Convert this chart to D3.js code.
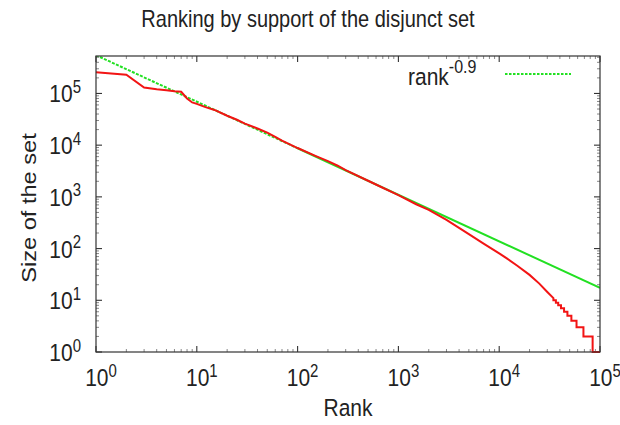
<!DOCTYPE html>
<html>
<head>
<meta charset="utf-8">
<script src="https://cdn.jsdelivr.net/npm/d3@7"></script>
<style>
  html, body { margin: 0; padding: 0; background: #fff; }
  svg { display: block; }
  text { font-family: "Liberation Sans", Arial, Helvetica, sans-serif; fill: #222; }
</style>
</head>
<body>
<svg id="chart" width="620" height="425"></svg>
<script>
// ---- data ----
const titleText = "Ranking by support of the disjunct set";
const xLabel = "Rank";
const yLabel = "Size of the set";
const xTickExps = [0, 1, 2, 3, 4, 5];
const yTickExps = [0, 1, 2, 3, 4, 5];

// red: observed size of set by rank
const rankValues = [1, 2, 3, 4, 5, 6, 7, 8, 9, 10, 12, 15, 20, 25, 30, 40, 50, 60, 70, 100, 150, 200, 250, 300, 500, 700,
  1000, 1500, 2000, 3000, 5000, 7000, 10000, 12000, 15000, 20000, 25000, 30000, 34500,
  34500, 36500, 36500, 38500, 38500, 41000, 41000, 44000, 44000, 47500, 47500, 52000, 52000, 58500, 58500, 68500, 68500, 84500, 84500, 100000];
const sizeValues = [258000, 230000, 130000, 120000, 115000, 110000, 108000, 80000, 67000, 63000, 55000, 48000, 37000, 31000, 26000, 21000, 17500, 14500, 12200, 8800, 6200, 4900, 4000, 3300, 2050, 1500,
  1080, 720, 560, 360, 190, 125, 81, 64, 47, 31, 21, 14.5, 11,
  10, 10, 9, 9, 8, 8, 7, 7, 6, 6, 5, 5, 4, 4, 3, 3, 2, 2, 1, 1];

// green: rank^-0.9 fit line
const fitLabel = "rank";
const fitExponentLabel = "-0.9";
const fitRanksDashed = [1, 100];
const fitSizesDashed = [550000, 8720];
const fitRanksSolid = [100, 100000];
const fitSizesSolid = [8720, 17.4];

// ---- layout ----
const svg = d3.select("#chart");
const W = 620, H = 425;
const m = { left: 96, right: 20, top: 56, bottom: 73 };
const x = d3.scaleLog().domain([1, 1e5]).range([m.left, W - m.right]);
const y = d3.scaleLog().domain([1, 5.3e5]).range([H - m.bottom, m.top]);
const x0 = m.left, x1 = W - m.right, y0 = H - m.bottom, y1 = m.top;

const red = "#f21414", green = "#22e022", axisCol = "#333";
const STRETCH = 1.18; // glyphs in the reference are vertically stretched

svg.append("defs").append("clipPath").attr("id", "clip")
  .append("rect").attr("x", x0).attr("y", y1).attr("width", x1 - x0).attr("height", y0 - y1);

// ticks (major + minor, inward, mirrored)
const g = svg.append("g");
const majorLen = 6, minorLen = 3;
const xMinor = [], yMinor = [];
for (let e = 0; e < 5; e++) for (let k = 2; k <= 9; k++) xMinor.push(k * Math.pow(10, e));
for (let e = 0; e < 6; e++) for (let k = 2; k <= 9; k++) { const v = k * Math.pow(10, e); if (v <= 5.3e5) yMinor.push(v); }
const xMajor = xTickExps.map(e => Math.pow(10, e));
const yMajor = yTickExps.map(e => Math.pow(10, e));

function xt(vals, len, col, wdt) {
  vals.forEach(v => {
    const px = x(v);
    g.append("line").attr("x1", px).attr("x2", px).attr("y1", y0).attr("y2", y0 - len).attr("stroke", col).attr("stroke-width", wdt);
    g.append("line").attr("x1", px).attr("x2", px).attr("y1", y1).attr("y2", y1 + len).attr("stroke", col).attr("stroke-width", wdt);
  });
}
function yt(vals, len, col, wdt) {
  vals.forEach(v => {
    const py = y(v);
    g.append("line").attr("y1", py).attr("y2", py).attr("x1", x0).attr("x2", x0 + len).attr("stroke", col).attr("stroke-width", wdt);
    g.append("line").attr("y1", py).attr("y2", py).attr("x1", x1).attr("x2", x1 - len).attr("stroke", col).attr("stroke-width", wdt);
  });
}
xt(xMinor, minorLen, "#888", 1);
yt(yMinor, minorLen, "#888", 1);
xt(xMajor, majorLen, axisCol, 1.1);
yt(yMajor, majorLen, axisCol, 1.1);

// lines
const line = d3.line().x(d => x(d[0])).y(d => y(d[1]));
const plot = svg.append("g").attr("clip-path", "url(#clip)");
plot.append("path")
  .datum(fitRanksDashed.map((r, i) => [r, fitSizesDashed[i]]))
  .attr("d", line).attr("fill", "none").attr("stroke", green).attr("stroke-width", 2)
  .attr("stroke-dasharray", "3,1.4");
plot.append("path")
  .datum(fitRanksSolid.map((r, i) => [r, fitSizesSolid[i]]))
  .attr("d", line).attr("fill", "none").attr("stroke", green).attr("stroke-width", 2);
svg.append("path")
  .datum(rankValues.map((r, i) => [r, sizeValues[i]]))
  .attr("d", line).attr("fill", "none").attr("stroke", red).attr("stroke-width", 2)
  .attr("stroke-linejoin", "miter");

// border
svg.append("rect").attr("x", x0).attr("y", y1).attr("width", x1 - x0).attr("height", y0 - y1)
  .attr("fill", "none").attr("stroke", axisCol).attr("stroke-width", 1.2);

// helper: text at (tx,ty) stretched vertically
function stext(tx, ty, size, anchor, rotate) {
  const tr = rotate
    ? `translate(${tx},${ty}) rotate(-90) scale(${STRETCH},1)`
    : `translate(${tx},${ty}) scale(1,${STRETCH})`;
  return svg.append("text").attr("transform", tr).attr("text-anchor", anchor).attr("font-size", size);
}

// tick labels
const fs = 21, sfs = 15;
xTickExps.forEach(e => {
  const t = stext(x(Math.pow(10, e)) + 5, 386, fs, "middle");
  t.append("tspan").text("10");
  t.append("tspan").attr("dy", -8).attr("font-size", sfs).text(String(e));
});
yTickExps.forEach(e => {
  const t = stext(81, y(Math.pow(10, e)) + 9, fs, "end");
  t.append("tspan").text("10");
  t.append("tspan").attr("dy", -8).attr("font-size", sfs).text(String(e));
});

// title & axis labels
stext(308, 27, 20, "middle").text(titleText);
stext((x0 + x1) / 2, 416, 21, "middle").text(xLabel);
stext(36, 208, 20, "middle", true).text(yLabel);

// legend
const lt = stext(408, 85, 21, "start");
lt.append("tspan").text(fitLabel);
lt.append("tspan").attr("dy", -10).attr("font-size", 16).text(fitExponentLabel);
svg.append("line").attr("x1", 505).attr("x2", 571).attr("y1", 74).attr("y2", 74)
  .attr("stroke", green).attr("stroke-width", 2).attr("stroke-dasharray", "2.5,1.5");
</script>
</body>
</html>
